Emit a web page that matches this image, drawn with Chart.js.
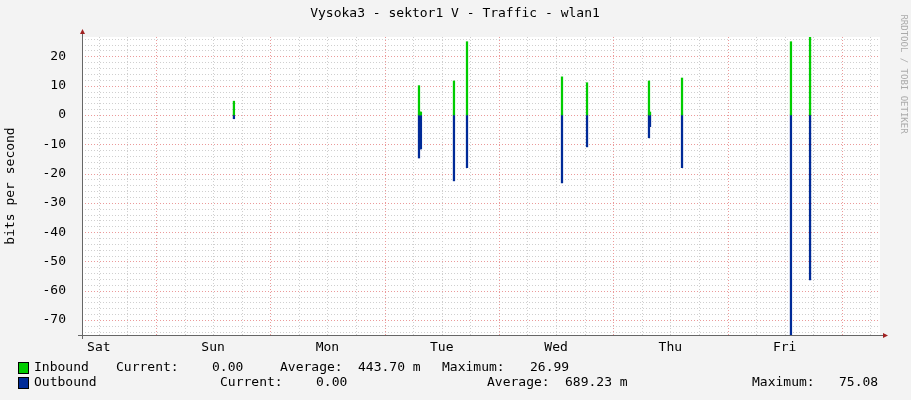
<!DOCTYPE html>
<html><head><meta charset="utf-8">
<script src="https://cdn.jsdelivr.net/npm/chart.js@4"></script>
<style>html,body{margin:0;padding:0;background:#f3f3f3}#wrap{width:911px;height:400px}</style>
</head><body><div id="wrap"><canvas id="c" width="911" height="400"></canvas></div>
<script>
// time in days since Saturday 00:00
const times    = [1.682, 3.301, 3.310, 3.318, 3.607, 3.721, 4.552, 4.771, 5.313, 5.322, 5.602, 6.555, 6.722];
const inbound  = [4.7,   10.0,  1.0,   1.0,   11.6,  25.0,  13.0,  11.0,  11.6,  1.0,   12.6,  25.0,  27.0];
const outbound = [-1.3, -14.7, -11.6, -11.6, -22.5, -18.0, -23.2, -10.9, -7.8,  -4.0,  -18.0, -75.08, -56.3];
const dayLabels = ['Sat','Sun','Mon','Tue','Wed','Thu','Fri'];
const yTicks = [-70,-60,-50,-40,-30,-20,-10,0,10,20];
const legendRows = [
  {name:'Inbound', color:'#00cc00', items:[['Current:',116],['0.00',212],['Average:',280],['443.70 m',358],['Maximum:',442],['26.99',530]]},
  {name:'Outbound', color:'#002a97', items:[['Current:',220],['0.00',316],['Average:',487],['689.23 m',565],['Maximum:',752],['75.08',839]]}
];
const XMIN=0.353, XMAX=7.334, YMIN=-75.1, YMAX=26.6;
const MONO='"DejaVu Sans Mono", monospace';

const deco = {
  id:'deco',
  beforeDraw(ch){
    const c=ch.ctx, a=ch.chartArea, xs=ch.scales.x, ys=ch.scales.y;
    c.save();
    c.fillStyle='#fff'; c.fillRect(a.left,a.top,a.right-a.left,a.bottom-a.top);
    c.lineWidth=1;
    const vline=(v,col)=>{const p=Math.round(xs.getPixelForValue(v))+0.5;c.strokeStyle=col;c.beginPath();c.moveTo(p,a.top);c.lineTo(p,a.bottom);c.stroke();};
    const hline=(v,col)=>{const p=Math.round(ys.getPixelForValue(v))+0.5;c.strokeStyle=col;c.beginPath();c.moveTo(a.left,p);c.lineTo(a.right,p);c.stroke();};
    c.setLineDash([1,2]);
    for(let v=-74; v<=26; v+=2){ if(v%10!==0) hline(v,'#cfcfcf'); }
    for(let v=0.5; v<=7.25; v+=0.25){ if(v>XMIN && Math.abs(v-Math.round(v))>0.01) vline(v,'#cfcfcf'); }
    for(let v=-70; v<=20; v+=10) hline(v,'#eb9a9a');
    for(let v=1; v<=7; v++) vline(v,'#eb9a9a');
    c.restore();
  },
  afterDraw(ch){
    const c=ch.ctx, a=ch.chartArea;
    c.save();
    c.strokeStyle='#666'; c.lineWidth=1;
    c.beginPath(); c.moveTo(a.left+0.5,a.top-6); c.lineTo(a.left+0.5,a.bottom+4); c.stroke();
    c.beginPath(); c.moveTo(a.left-4,a.bottom+0.5); c.lineTo(a.right+4,a.bottom+0.5); c.stroke();
    c.fillStyle='#a02020';
    c.beginPath(); c.moveTo(a.left-2,a.top-3); c.lineTo(a.left+3,a.top-3); c.lineTo(a.left+0.5,a.top-8); c.fill();
    c.beginPath(); c.moveTo(a.right+3,a.bottom-2); c.lineTo(a.right+3,a.bottom+3); c.lineTo(a.right+8,a.bottom+0.5); c.fill();
    c.fillStyle='#000'; c.font='13px '+MONO; c.textAlign='center'; c.textBaseline='middle';
    c.fillText('Vysoka3 - sektor1 V - Traffic - wlan1', 455, 14);
    c.save(); c.translate(11,186); c.rotate(-Math.PI/2); c.fillText('bits per second',0,0); c.restore();
    c.save(); c.translate(903,74); c.rotate(Math.PI/2); c.fillStyle='#aaa'; c.font='9px '+MONO; c.fillText('RRDTOOL / TOBI OETIKER',0,0); c.restore();
    c.textAlign='left'; c.font='13px '+MONO;
    legendRows.forEach((r,i)=>{
      const y=368+i*15;
      c.fillStyle=r.color; c.fillRect(19,y-5,9,10);
      c.strokeStyle='#000'; c.strokeRect(18.5,y-5.5,10,11);
      c.fillStyle='#000'; c.fillText(r.name,34,y);
      r.items.forEach(([t,x])=>c.fillText(t,x,y));
    });
    c.restore();
  }
};

new Chart(document.getElementById('c'), {
  type:'bar',
  data:{datasets:[
    {label:'Inbound', data:times.map((t,i)=>({x:t,y:inbound[i]})), backgroundColor:'#00cc00', barThickness:1.6, grouped:false},
    {label:'Outbound', data:times.map((t,i)=>({x:t,y:outbound[i]})), backgroundColor:'#002a97', barThickness:1.6, grouped:false}
  ]},
  plugins:[deco],
  options:{
    responsive:false, animation:false, devicePixelRatio:1,
    layout:{padding:{left:0,top:37,right:31,bottom:0}},
    plugins:{legend:{display:false}, tooltip:{enabled:false}},
    scales:{
      x:{type:'linear', min:XMIN, max:XMAX, offset:false,
         grid:{display:false}, border:{display:false},
         afterBuildTicks:s=>{s.ticks=dayLabels.map((d,i)=>({value:i+0.5}));},
         afterFit:s=>{s.height=65;},
         ticks:{autoSkip:false, maxRotation:0, color:'#000', font:{family:MONO,size:13}, padding:-3,
                callback:(v)=>dayLabels[Math.round(v-0.5)]}},
      y:{min:YMIN, max:YMAX,
         grid:{display:false}, border:{display:false},
         afterBuildTicks:s=>{s.ticks=yTicks.map(v=>({value:v}));},
         afterFit:s=>{s.width=82;},
         ticks:{color:'#000', font:{family:MONO,size:13}, padding:8}}
    }
  }
});
</script></body></html>
